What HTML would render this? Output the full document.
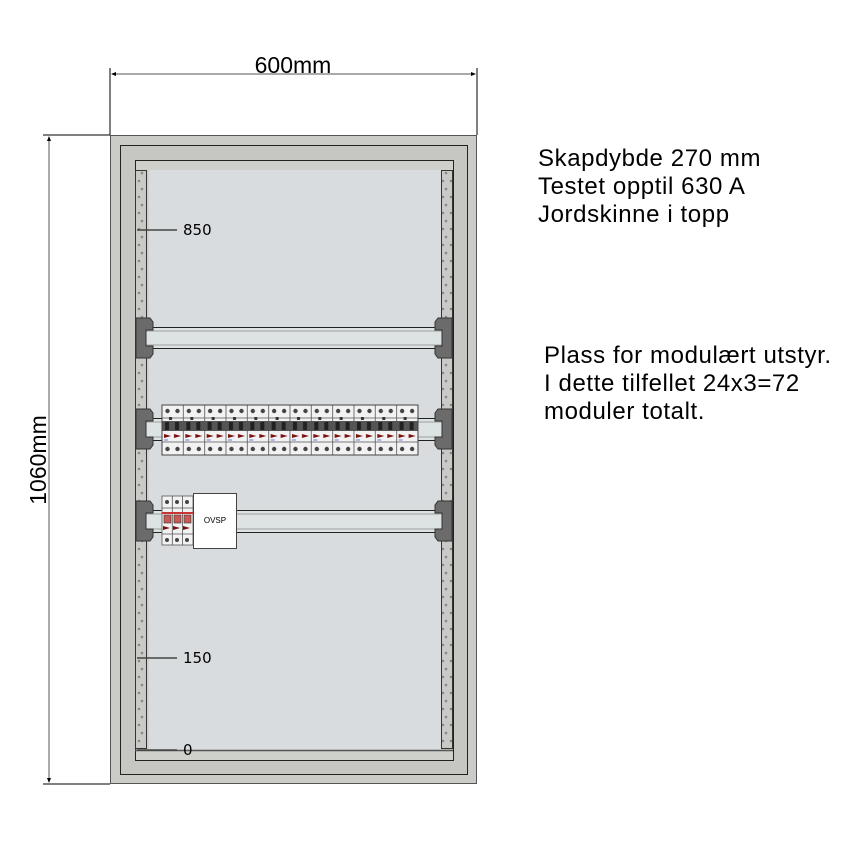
<!DOCTYPE html>
<html><head><meta charset="utf-8"><style>
html,body{margin:0;padding:0;background:#fff;width:850px;height:850px;overflow:hidden}
svg{display:block}
.t{font-family:"Liberation Sans",sans-serif;font-size:24px;letter-spacing:0.6px;fill:#000}
.d{font-family:"Liberation Sans",sans-serif;font-size:23px;fill:#000}
.s{font-family:"DejaVu Sans",sans-serif;font-size:15px;fill:#000}
</style></head><body>
<svg width="850" height="850" viewBox="0 0 850 850">
<defs>
<pattern id="brk" x="162" y="405" width="21.33" height="50" patternUnits="userSpaceOnUse">
<rect x="0" y="0" width="21.33" height="50" fill="#f2f2f2" stroke="#555" stroke-width="0.8"/>
<line x1="0" y1="13" x2="21.33" y2="13" stroke="#555" stroke-width="0.7"/>
<line x1="0" y1="37" x2="21.33" y2="37" stroke="#555" stroke-width="0.7"/>
<circle cx="5.5" cy="6" r="2.2" fill="#444"/><circle cx="15.5" cy="6" r="2.2" fill="#444"/>
<circle cx="5.5" cy="44" r="2.2" fill="#444"/><circle cx="15.5" cy="44" r="2.2" fill="#444"/>
<rect x="0" y="16" width="21.33" height="10" fill="#555"/>
<rect x="3" y="17" width="4" height="8" fill="#222"/><rect x="13" y="17" width="4" height="8" fill="#222"/>
<rect x="7" y="12" width="3" height="3" fill="#333"/>
<polygon points="2,29 9,31 2,33" fill="#7a1010"/><polygon points="12,29 19,31 12,33" fill="#7a1010"/>
<line x1="2" y1="35" x2="6" y2="35" stroke="#36c" stroke-width="0.8"/>
</pattern>
<pattern id="dots" x="0" y="0" width="8" height="16" patternUnits="userSpaceOnUse">
<circle cx="3" cy="5" r="1.3" fill="#888"/><circle cx="6" cy="13" r="1.3" fill="#888"/>
</pattern>
</defs>
<line x1="110" y1="68" x2="110" y2="135" stroke="#000" stroke-width="1"/>
<line x1="477" y1="68" x2="477" y2="135" stroke="#000" stroke-width="1"/>
<line x1="112" y1="74" x2="475" y2="74" stroke="#555" stroke-width="1"/>
<polygon points="111,74 116,72 116,76" fill="#000"/><polygon points="476,74 471,72 471,76" fill="#000"/>
<text class="d" x="293" y="73" text-anchor="middle">600mm</text>
<line x1="43" y1="135" x2="110" y2="135" stroke="#000" stroke-width="1"/>
<line x1="43" y1="784" x2="110" y2="784" stroke="#000" stroke-width="1"/>
<line x1="49" y1="137" x2="49" y2="782" stroke="#555" stroke-width="1"/>
<polygon points="49,136 47,141 51,141" fill="#000"/><polygon points="49,783 47,778 51,778" fill="#000"/>
<text class="d" x="0" y="0" text-anchor="middle" transform="translate(46,460) rotate(-90)">1060mm</text>
<rect x="110.5" y="135.5" width="366" height="648" fill="#cbccc7" stroke="#555" stroke-width="1"/>
<rect x="120.5" y="145.5" width="347" height="629" fill="#c6c7c2" stroke="#222" stroke-width="1"/>
<rect x="135.5" y="160.5" width="318" height="600" fill="#cfd0cb" stroke="#222" stroke-width="1"/>
<rect x="149" y="170" width="292" height="580" fill="#d9dcde"/>
<line x1="135" y1="750.5" x2="453" y2="750.5" stroke="#555" stroke-width="1.5"/>
<rect x="135.5" y="170.5" width="11" height="578" fill="#c9cac6" stroke="#333" stroke-width="1"/>
<rect x="136" y="171" width="10" height="577" fill="url(#dots)"/>
<rect x="441.5" y="170.5" width="11" height="578" fill="#c9cac6" stroke="#333" stroke-width="1"/>
<rect x="442" y="171" width="10" height="577" fill="url(#dots)"/>
<g stroke="#444" stroke-width="1.5">
<line x1="137" y1="230" x2="177" y2="230"/><line x1="137" y1="338" x2="177" y2="338"/>
<line x1="137" y1="658" x2="177" y2="658"/><line x1="137" y1="750" x2="177" y2="750"/>
</g>
<text class="s" x="183" y="235">850</text>
<text class="s" x="183" y="343">675</text>
<text class="s" x="183" y="663">150</text>
<text class="s" x="183" y="755">0</text>
<g stroke="#222" stroke-width="1">
<rect x="145.5" y="327.5" width="298" height="21" fill="#dde3e3"/>
<rect x="145.5" y="418.5" width="298" height="22" fill="#dde3e3"/>
<rect x="145.5" y="510.5" width="298" height="22" fill="#dde3e3"/>
</g>
<g stroke="#888" stroke-width="0.8">
<line x1="146" y1="331" x2="443" y2="331"/><line x1="146" y1="345" x2="443" y2="345"/>
<line x1="146" y1="422" x2="443" y2="422"/><line x1="146" y1="437" x2="443" y2="437"/>
<line x1="146" y1="514" x2="443" y2="514"/><line x1="146" y1="529" x2="443" y2="529"/>
</g>
<g fill="#6b6b6b" stroke="#333" stroke-width="1">
<path d="M136,318 h14 l3,4 v8 h-7 v16 h7 v8 l-3,4 h-14 z"/>
<path d="M452,318 h-14 l-3,4 v8 h7 v16 h-7 v8 l3,4 h14 z"/>
<path d="M136,409 h14 l3,4 v8 h-7 v16 h7 v8 l-3,4 h-14 z"/>
<path d="M452,409 h-14 l-3,4 v8 h7 v16 h-7 v8 l3,4 h14 z"/>
<path d="M136,501 h14 l3,4 v8 h-7 v16 h7 v8 l-3,4 h-14 z"/>
<path d="M452,501 h-14 l-3,4 v8 h7 v16 h-7 v8 l3,4 h14 z"/>
</g>
<rect x="162" y="405" width="256" height="50" fill="url(#brk)" stroke="#444" stroke-width="1"/>
<g stroke="#555" stroke-width="0.8">
<rect x="162" y="496" width="31" height="49" fill="#f2f2f2"/>
<line x1="172.3" y1="496" x2="172.3" y2="545"/><line x1="182.6" y1="496" x2="182.6" y2="545"/>
<line x1="162" y1="508" x2="193" y2="508"/><line x1="162" y1="534" x2="193" y2="534"/>
</g>
<rect x="162" y="512" width="31" height="2" fill="#c33"/>
<g fill="#c85a55" stroke="#333" stroke-width="0.6">
<rect x="164" y="515" width="7" height="8"/><rect x="174" y="515" width="7" height="8"/><rect x="184" y="515" width="7" height="8"/>
</g>
<g fill="#444">
<circle cx="167" cy="502" r="2"/><circle cx="177" cy="502" r="2"/><circle cx="187" cy="502" r="2"/>
<circle cx="167" cy="540" r="2"/><circle cx="177" cy="540" r="2"/><circle cx="187" cy="540" r="2"/>
</g>
<g fill="#7a1010">
<polygon points="163,526 170,528 163,530"/><polygon points="173,526 180,528 173,530"/><polygon points="183,526 190,528 183,530"/>
</g>
<rect x="193.5" y="493.5" width="43" height="55" fill="#fff" stroke="#444" stroke-width="1"/>
<text x="215" y="523" text-anchor="middle" style="font-family:'Liberation Sans',sans-serif;font-size:8px" fill="#000">OVSP</text>
<text class="t" x="538" y="166">Skapdybde 270 mm</text>
<text class="t" x="538" y="194">Testet opptil 630 A</text>
<text class="t" x="538" y="222">Jordskinne i topp</text>
<text class="t" x="544" y="363">Plass for modulært utstyr.</text>
<text class="t" x="544" y="391">I dette tilfellet 24x3=72</text>
<text class="t" x="544" y="419">moduler totalt.</text>
</svg>
</body></html>
